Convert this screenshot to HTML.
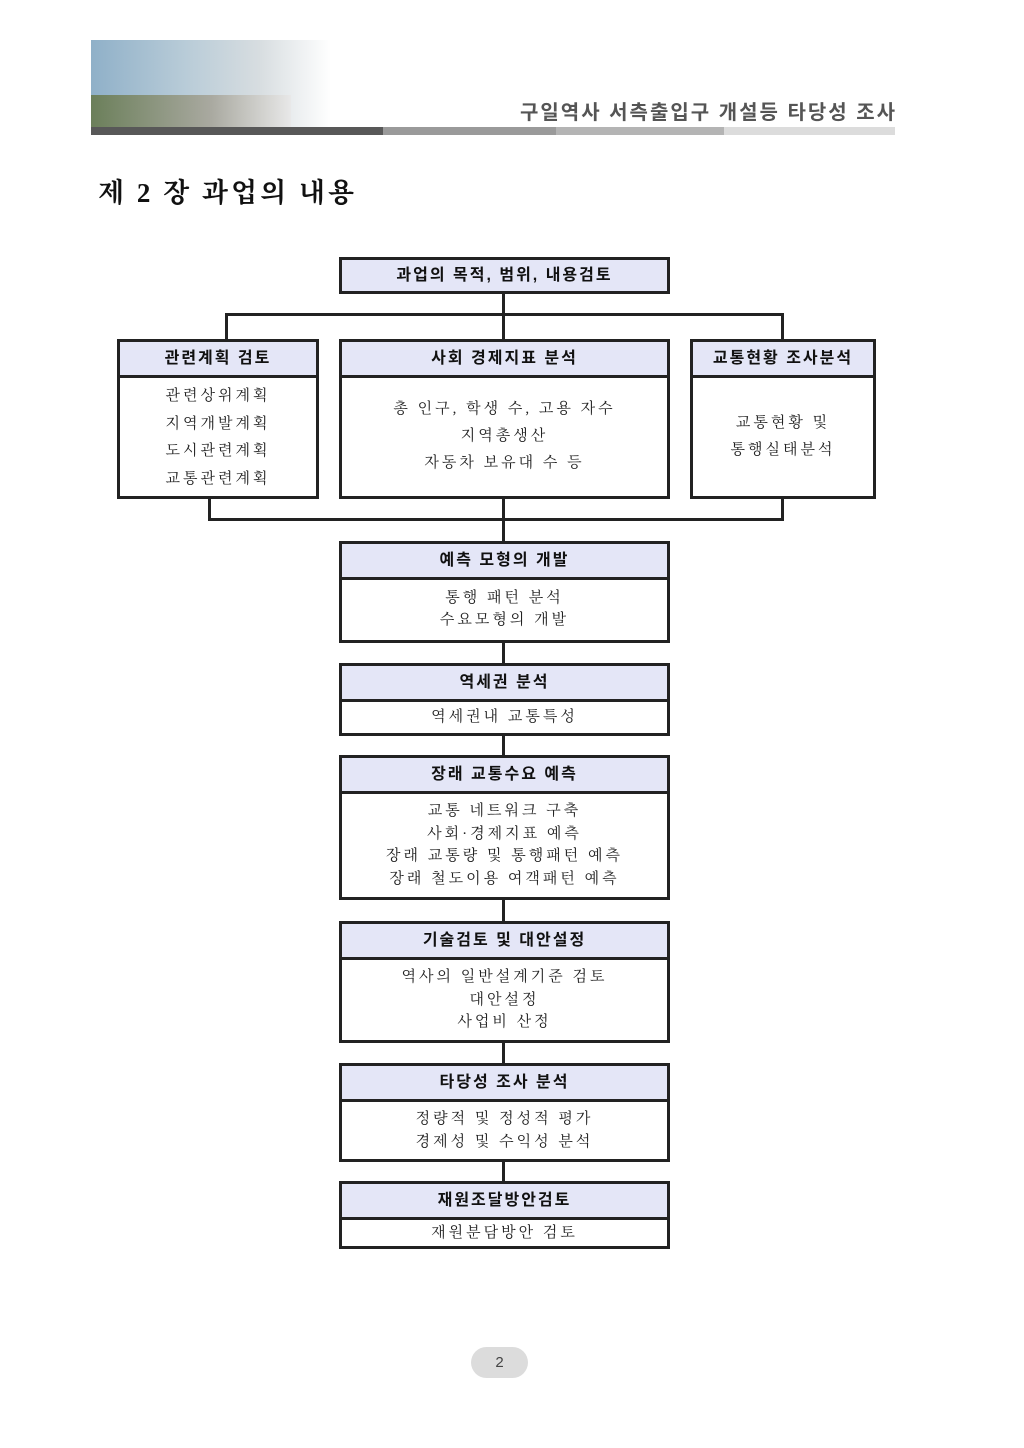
<!DOCTYPE html>
<html><head><meta charset="utf-8"><style>
body{margin:0;background:#fff;width:1024px;height:1448px;position:relative;font-family:"Liberation Sans","Noto Sans CJK KR",sans-serif;}
.a{position:absolute;}
.b{position:absolute;border:3px solid #222;box-sizing:border-box;background:#fff;}
.h{background:#e4e6f7;border-bottom:3px solid #222;box-sizing:border-box;text-align:center;font-weight:bold;font-size:16px;color:#111;letter-spacing:2px;}
.c{text-align:center;font-size:15px;color:#222;font-family:"Liberation Serif","Noto Serif CJK SC",serif;letter-spacing:3px;}
.l{position:absolute;background:#222;}
</style></head><body>
<div class="a" style="left:91px;top:40px;width:240px;height:87px;background:linear-gradient(90deg,#8fb0c8 0%,#b9ccd8 40%,#d7dde0 70%,#fff 100%);"></div>
<div class="a" style="left:91px;top:95px;width:200px;height:32px;background:linear-gradient(90deg,#6b7f5a,#a9a9a0 60%,#e8e8e8);"></div>
<div class="a" style="left:520px;top:96px;font-size:20px;font-weight:bold;color:#555;letter-spacing:2px;">구일역사 서측출입구 개설등 타당성 조사</div>
<div class="a" style="left:91px;top:127px;width:292px;height:8px;background:#585858"></div>
<div class="a" style="left:383px;top:127px;width:173px;height:8px;background:#9a9a9a"></div>
<div class="a" style="left:556px;top:127px;width:168px;height:8px;background:#b4b4b4"></div>
<div class="a" style="left:724px;top:127px;width:171px;height:8px;background:#dcdcdc"></div>
<div class="a" style="left:98px;top:171px;font-size:27px;font-weight:bold;font-family:'Liberation Serif','Noto Serif CJK SC',serif;letter-spacing:3px;color:#111;">제 2 장 과업의 내용</div>

<div class="l" style="left:502px;top:292px;width:3px;height:48px"></div>
<div class="l" style="left:225px;top:313px;width:559px;height:3px"></div>
<div class="l" style="left:225px;top:313px;width:3px;height:27px"></div>
<div class="l" style="left:781px;top:313px;width:3px;height:27px"></div>
<div class="l" style="left:208px;top:497px;width:3px;height:23px"></div>
<div class="l" style="left:781px;top:497px;width:3px;height:23px"></div>
<div class="l" style="left:208px;top:518px;width:576px;height:3px"></div>
<div class="l" style="left:502px;top:497px;width:3px;height:700px"></div>

<div class="b" style="left:339px;top:257px;width:331px;height:37px;"><div class="h" style="height:31px;line-height:31px;border:0">과업의 목적, 범위, 내용검토</div></div>

<div class="b" style="left:117px;top:339px;width:202px;height:160px;"><div class="h" style="height:36px;line-height:33px">관련계획 검토</div><div class="c" style="line-height:27.5px;padding-top:5px">관련상위계획<br>지역개발계획<br>도시관련계획<br>교통관련계획</div></div>
<div class="b" style="left:339px;top:339px;width:331px;height:160px;"><div class="h" style="height:36px;line-height:33px">사회 경제지표 분석</div><div class="c" style="line-height:27px;padding-top:18px">총 인구, 학생 수, 고용 자수<br>지역총생산<br>자동차 보유대 수 등</div></div>
<div class="b" style="left:690px;top:339px;width:186px;height:160px;"><div class="h" style="height:36px;line-height:33px">교통현황 조사분석</div><div class="c" style="line-height:27px;padding-top:32px">교통현황 및<br>통행실태분석</div></div>

<div class="b" style="left:339px;top:541px;width:331px;height:102px;"><div class="h" style="height:36px;line-height:33px">예측 모형의 개발</div><div class="c" style="line-height:22px;padding-top:7px">통행 패턴 분석<br>수요모형의 개발</div></div>
<div class="b" style="left:339px;top:663px;width:331px;height:73px;"><div class="h" style="height:36px;line-height:33px">역세권 분석</div><div class="c" style="line-height:31px">역세권내 교통특성</div></div>
<div class="b" style="left:339px;top:755px;width:331px;height:145px;"><div class="h" style="height:36px;line-height:33px">장래 교통수요 예측</div><div class="c" style="line-height:22.5px;padding-top:6px">교통 네트워크 구축<br>사회·경제지표 예측<br>장래 교통량 및 통행패턴 예측<br>장래 철도이용 여객패턴 예측</div></div>
<div class="b" style="left:339px;top:921px;width:331px;height:122px;"><div class="h" style="height:36px;line-height:33px">기술검토 및 대안설정</div><div class="c" style="line-height:22.5px;padding-top:6px">역사의 일반설계기준 검토<br>대안설정<br>사업비 산정</div></div>
<div class="b" style="left:339px;top:1063px;width:331px;height:99px;"><div class="h" style="height:36px;line-height:33px">타당성 조사 분석</div><div class="c" style="line-height:22.5px;padding-top:6px">정량적 및 정성적 평가<br>경제성 및 수익성 분석</div></div>
<div class="b" style="left:339px;top:1181px;width:331px;height:68px;"><div class="h" style="height:36px;line-height:33px">재원조달방안검토</div><div class="c" style="line-height:27px">재원분담방안 검토</div></div>

<div class="a" style="left:471px;top:1347px;width:57px;height:31px;border-radius:16px;background:#dcdcdc;text-align:center;line-height:31px;font-size:15px;color:#444;">2</div>
</body></html>
